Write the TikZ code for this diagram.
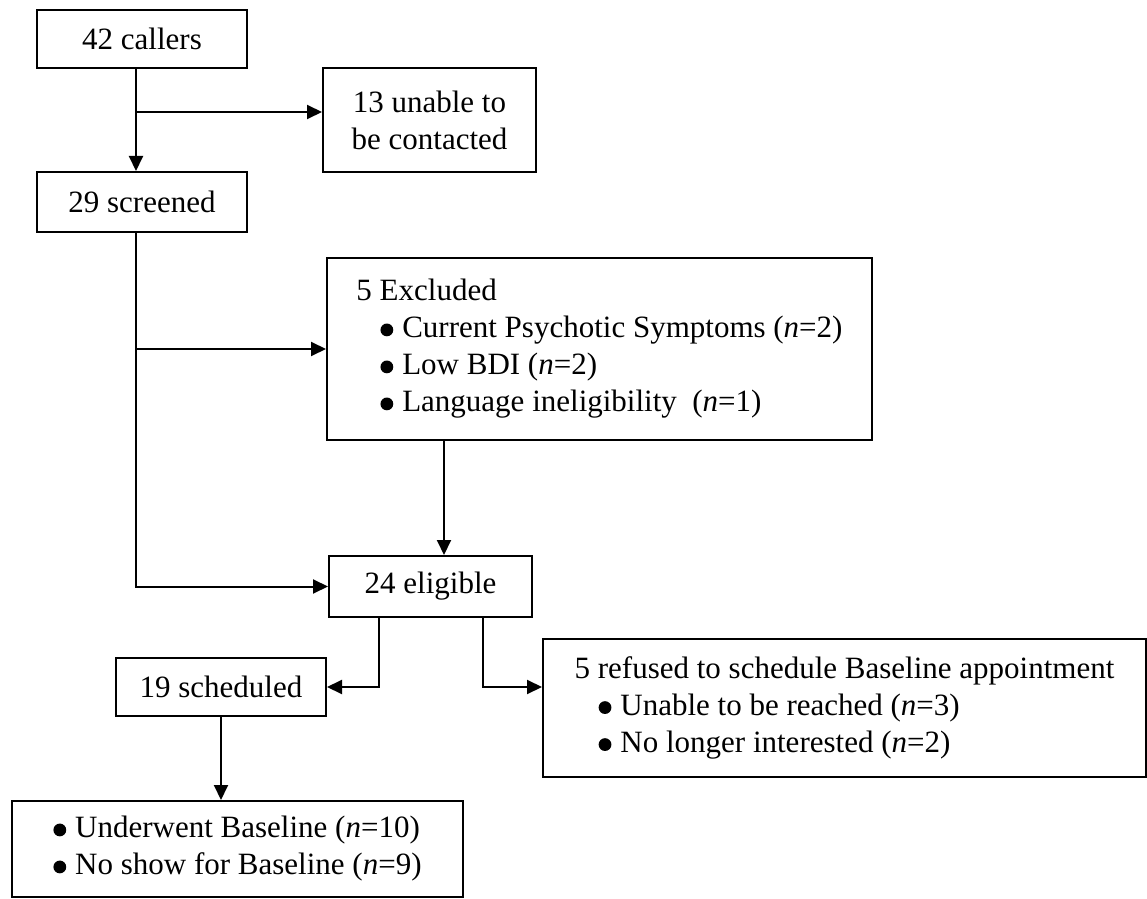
\documentclass[tikz,border=0pt]{standalone}
\usepackage{fontspec}
\setmainfont{Liberation Serif}
\usetikzlibrary{arrows.meta}

\newcommand{\bigdot}{\tikz[x=1pt,y=1pt,baseline=-4pt]\fill (0,0) circle[radius=3.2pt];}
\newcommand{\bul}{\bigdot\hspace{4.5pt}}
\newcommand{\ibul}{\hspace*{12pt}\bigdot\hspace{4.5pt}}
\newcommand{\nn}[1]{(\textit{n}=#1)}

\begin{document}
\begin{tikzpicture}[x=0.5pt,y=-0.5pt,
  every node/.style={font=\fontsize{15.5}{18.5}\selectfont},
  box/.style={draw,line width=1pt,inner sep=0pt},
  arr/.style={line width=1pt,-{Triangle[length=7.5pt,width=7pt]}}]
  \useasboundingbox (0,0) rectangle (1147,899);

  % boxes
  \node[box,minimum width=105pt,minimum height=29pt] (callers) at (142,39) {42 callers};
  \node[box,minimum width=106.5pt,minimum height=52pt,align=center] (unable) at (429.5,120)
    {13 unable to\\be contacted};
  \node[box,minimum width=105pt,minimum height=30pt] (screened) at (142,202) {29 screened};
  \node[box,minimum width=272.5pt,minimum height=91pt,align=left] (excl) at (599.5,349)
    {5 Excluded\\
     \ibul Current Psychotic Symptoms \nn{2}\\
     \ibul Low BDI \nn{2}\\
     \ibul Language ineligibility\ \ \nn{1}};
  \node[box,minimum width=101.5pt,minimum height=30.5pt] (elig) at (430.5,586.5) {24 eligible};
  \node[box,minimum width=105pt,minimum height=29pt] (sched) at (221,687) {19 scheduled};
  \node[box,minimum width=301.5pt,minimum height=69pt,align=left] (refused) at (844.5,708)
    {5 refused to schedule Baseline appointment\\
     \ibul Unable to be reached \nn{3}\\
     \ibul No longer interested \nn{2}};
  \node[box,minimum width=225.5pt,minimum height=48pt,align=left] (baseline) at (237.5,849)
    {\bul Underwent Baseline \nn{10}\\
     \bul No show for Baseline \nn{9}};

  % connectors
  \coordinate (split1) at (136,112);
  \draw[arr] ([xshift=-3pt]callers.south) -- ([xshift=-3pt]screened.north);
  \draw[arr] (split1) -- (split1 -| unable.west);
  \draw[arr] ([xshift=-3pt]screened.south) |- (elig.west);
  \draw[arr] ([xshift=-3pt]screened.south |- excl.west) -- (excl.west);
  \draw[arr] ([xshift=6.75pt]elig.north |- excl.south) -- ([xshift=6.75pt]elig.north);
  \draw[arr] ([xshift=-26pt]elig.south) |- (sched.east);
  \draw[arr] ([xshift=26pt]elig.south) |- (sched.east -| refused.west);
  \draw[arr] (sched.south) -- (sched.south |- baseline.north);

\end{tikzpicture}
\end{document}
